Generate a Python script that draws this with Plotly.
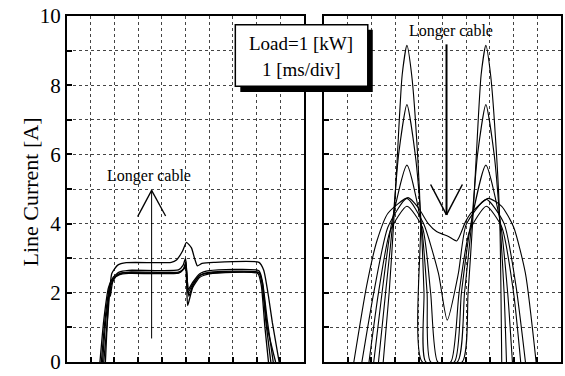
import plotly.graph_objects as go

# ---------------- data (x in ms, 1 ms/div; y in A) ----------------
# Left panel: line current with cable of increasing length (5 traces)
L1_x = [1.55, 1.72, 1.89, 2.14, 2.5, 4.4, 4.62, 4.87, 5.04, 5.25, 5.38, 5.5, 5.7, 6.2, 8.1, 8.3, 8.5, 8.66, 8.95]
L1_y = [0.0, 1.3, 2.56, 2.8, 2.87, 2.88, 2.95, 3.2, 3.46, 3.3, 3.0, 2.78, 2.85, 2.88, 2.88, 2.65, 1.9, 1.15, 0.0]
L2_x = [1.45, 1.6, 1.8, 1.95, 2.2, 2.6, 4.7, 4.9, 5.0, 5.06, 5.12, 5.3, 5.6, 6.0, 8.1, 8.25, 8.45, 8.7]
L2_y = [0.0, 1.2, 2.2, 2.45, 2.6, 2.65, 2.66, 2.8, 3.0, 2.5, 2.1, 2.3, 2.55, 2.64, 2.64, 2.3, 1.2, 0.0]
L3_x = [1.39, 1.55, 1.75, 1.92, 2.2, 2.6, 4.7, 4.92, 5.0, 5.05, 5.09, 5.3, 5.6, 6.0, 8.05, 8.2, 8.35, 8.5]
L3_y = [0.0, 1.2, 2.15, 2.4, 2.52, 2.56, 2.57, 2.7, 2.85, 2.2, 1.63, 2.15, 2.45, 2.55, 2.56, 2.2, 1.0, 0.0]
L4_x = [1.5, 1.65, 1.85, 2.0, 2.25, 2.6, 4.7, 4.92, 5.02, 5.08, 5.14, 5.3, 5.6, 6.0, 8.1, 8.22, 8.4, 8.6]
L4_y = [0.0, 1.3, 2.2, 2.45, 2.57, 2.6, 2.6, 2.68, 2.75, 2.3, 1.9, 2.2, 2.5, 2.59, 2.59, 2.3, 1.1, 0.0]
L5_x = [1.62, 1.72, 1.78, 1.8, 1.83, 1.92, 2.1, 2.5, 4.75, 4.95, 5.02, 5.1, 5.3, 5.6, 6.0, 8.1, 8.25, 8.45, 8.8]
L5_y = [0.0, 1.5, 2.05, 2.22, 1.9, 2.3, 2.5, 2.58, 2.58, 2.72, 2.9, 2.0, 2.25, 2.5, 2.57, 2.57, 2.25, 1.0, 0.0]

# Right panel: rectifier input current with cable of increasing length (6 traces)
R1_x = [2.5, 2.75, 2.94, 3.1, 3.3, 3.5, 3.7, 3.95, 4.08, 4.15, 5.83, 6.08, 6.27, 6.43, 6.63, 6.83, 7.03, 7.28, 7.42, 7.5]
R1_y = [0.0, 2.0, 4.0, 6.0, 8.3, 9.15, 8.3, 6.0, 4.0, 0.0, 0.0, 2.0, 4.0, 6.0, 8.3, 9.15, 8.3, 6.0, 4.0, 0.0]
R2_x = [2.3, 2.6, 2.9, 3.15, 3.5, 3.85, 4.1, 4.22, 4.3, 5.63, 5.93, 6.23, 6.48, 6.83, 7.18, 7.43, 7.6, 7.7]
R2_y = [0.0, 2.0, 4.0, 6.0, 7.44, 6.0, 4.0, 2.0, 0.0, 0.0, 2.0, 4.0, 6.0, 7.44, 6.0, 4.0, 2.0, 0.0]
R3_x = [2.1, 2.45, 2.85, 3.5, 4.1, 4.35, 4.5, 5.5, 5.8, 6.2, 6.83, 7.45, 7.75, 7.95]
R3_y = [0.0, 2.0, 4.0, 5.69, 4.0, 2.0, 0.0, 0.0, 2.0, 4.0, 5.69, 4.0, 2.0, 0.0]
R4_x = [1.9, 2.3, 2.8, 3.5, 4.15, 4.5, 4.8, 5.35, 5.7, 6.15, 6.85, 7.5, 8.0, 8.3]
R4_y = [0.0, 2.0, 3.8, 4.5, 3.9, 2.0, 0.0, 0.0, 2.0, 3.8, 4.5, 3.9, 2.0, 0.0]
R5_x = [1.6, 2.1, 2.7, 3.5, 4.2, 4.83, 5.2, 5.67, 6.0, 6.85, 7.6, 8.1, 8.5]
R5_y = [0.0, 2.0, 3.9, 4.73, 4.0, 2.56, 1.21, 2.56, 3.97, 4.7, 4.0, 2.2, 0.0]
R6_x = [1.26, 1.8, 2.23, 2.7, 3.55, 3.99, 4.4, 4.75, 5.25, 5.6, 5.97, 6.2, 6.93, 7.5, 8.0, 8.5, 8.95]
R6_y = [0.0, 2.2, 3.49, 4.3, 4.75, 4.45, 4.0, 3.77, 3.63, 3.5, 4.05, 4.3, 4.73, 4.5, 3.9, 2.56, 0.0]

left_curves = [(L1_x, L1_y), (L2_x, L2_y), (L3_x, L3_y), (L4_x, L4_y), (L5_x, L5_y)]
right_curves = [(R1_x, R1_y), (R2_x, R2_y), (R3_x, R3_y), (R4_x, R4_y), (R5_x, R5_y), (R6_x, R6_y)]

y_ticks = [0, 1, 2, 3, 4, 5, 6, 7, 8, 9, 10]
y_labels = ["0", "", "2", "", "4", "", "6", "", "8", "", "10"]
x_ticks = [0, 1, 2, 3, 4, 5, 6, 7, 8, 9, 10]

y_title = "Line Current [A]"
box_lines = ["Load=1 [kW]", "1 [ms/div]"]
arrow_text = "Longer cable"

# ---------------- figure ----------------
W, H = 565, 376
ML, MR, MT, MB = 67, 2, 16, 5
PW, PH = W - ML - MR, H - MT - MB


def px(xp):
    return (xp - ML) / PW


def py(yp):
    return (H - MB - yp) / PH


FONT = "Liberation Serif, Times New Roman, serif"

fig = go.Figure()
for cx, cy in left_curves:
    fig.add_trace(go.Scatter(x=cx, y=cy, mode="lines", xaxis="x", yaxis="y",
                             line=dict(color="black", width=1.3, shape="spline", smoothing=0.5),
                             showlegend=False, hoverinfo="skip"))
for cx, cy in right_curves:
    fig.add_trace(go.Scatter(x=cx, y=cy, mode="lines", xaxis="x2", yaxis="y2",
                             line=dict(color="black", width=1.1, shape="spline", smoothing=0.6),
                             showlegend=False, hoverinfo="skip"))

axis_common = dict(showline=True, linecolor="black", linewidth=2, mirror=True,
                   showgrid=True, gridcolor="#444", gridwidth=1, griddash="dot",
                   zeroline=False, ticks="inside", ticklen=5, tickwidth=1.5, tickcolor="black",
                   range=[0, 10], fixedrange=True)

fig.update_layout(
    width=W, height=H,
    margin=dict(l=ML, r=MR, t=MT, b=MB),
    paper_bgcolor="white", plot_bgcolor="white",
    font=dict(family=FONT, color="black"),
    xaxis=dict(axis_common, domain=[0, 238 / PW], tickmode="array", tickvals=x_ticks,
               showticklabels=False, anchor="y"),
    yaxis=dict(axis_common, domain=[0, 1], tickmode="array", tickvals=y_ticks, ticktext=y_labels,
               tickfont=dict(family=FONT, size=21, color="black"), anchor="x",
               ticklabeloverflow="allow"),
    xaxis2=dict(axis_common, domain=[(325 - ML) / PW, 1], tickmode="array", tickvals=x_ticks,
                showticklabels=False, anchor="y2"),
    yaxis2=dict(axis_common, domain=[0, 1], tickmode="array", tickvals=y_ticks,
                showticklabels=False, anchor="x2"),
)

shapes = []
# left arrow (points up)
shapes.append(dict(type="line", xref="x", yref="y", x0=3.57, y0=0.68, x1=3.57, y1=4.96,
                   line=dict(color="black", width=1)))
shapes.append(dict(type="line", xref="x", yref="y", x0=2.98, y0=4.2, x1=3.57, y1=4.96,
                   line=dict(color="black", width=1.3)))
shapes.append(dict(type="line", xref="x", yref="y", x0=4.16, y0=4.22, x1=3.57, y1=4.96,
                   line=dict(color="black", width=1.3)))
# right arrow (points down)
shapes.append(dict(type="line", xref="x2", yref="y2", x0=5.17, y0=9.18, x1=5.17, y1=4.25,
                   line=dict(color="black", width=2)))
shapes.append(dict(type="line", xref="x2", yref="y2", x0=4.5, y0=5.13, x1=5.17, y1=4.25,
                   line=dict(color="black", width=1.5)))
shapes.append(dict(type="line", xref="x2", yref="y2", x0=5.84, y0=5.13, x1=5.17, y1=4.25,
                   line=dict(color="black", width=1.5)))
# info box with drop shadow
shapes.append(dict(type="rect", xref="paper", yref="paper", x0=px(241), x1=px(374), y0=py(94), y1=py(30),
                   fillcolor="black", line=dict(width=0), layer="above"))
shapes.append(dict(type="rect", xref="paper", yref="paper", x0=px(236), x1=px(369), y0=py(88), y1=py(25),
                   fillcolor="white", line=dict(color="black", width=1.5), layer="above"))
fig.update_layout(shapes=shapes)

ann = []
ann.append(dict(xref="x", yref="y", x=3.45, y=5.38, text=arrow_text, showarrow=False,
                xanchor="center", yanchor="middle",
                font=dict(family=FONT, size=16, color="black")))
ann.append(dict(xref="x2", yref="y2", x=5.34, y=9.58, text=arrow_text, showarrow=False,
                xanchor="center", yanchor="middle",
                font=dict(family=FONT, size=16, color="black")))
ann.append(dict(xref="paper", yref="paper", x=px(302), y=py(44), text=box_lines[0], showarrow=False,
                xanchor="center", yanchor="middle",
                font=dict(family=FONT, size=19, color="black")))
ann.append(dict(xref="paper", yref="paper", x=px(302), y=py(71), text=box_lines[1], showarrow=False,
                xanchor="center", yanchor="middle",
                font=dict(family=FONT, size=19, color="black")))
ann.append(dict(xref="paper", yref="paper", x=px(30), y=py(197), text=y_title, showarrow=False,
                xanchor="center", yanchor="middle",
                textangle=-90, font=dict(family=FONT, size=22, color="black")))
fig.update_layout(annotations=ann)

fig.write_html("out.html")
